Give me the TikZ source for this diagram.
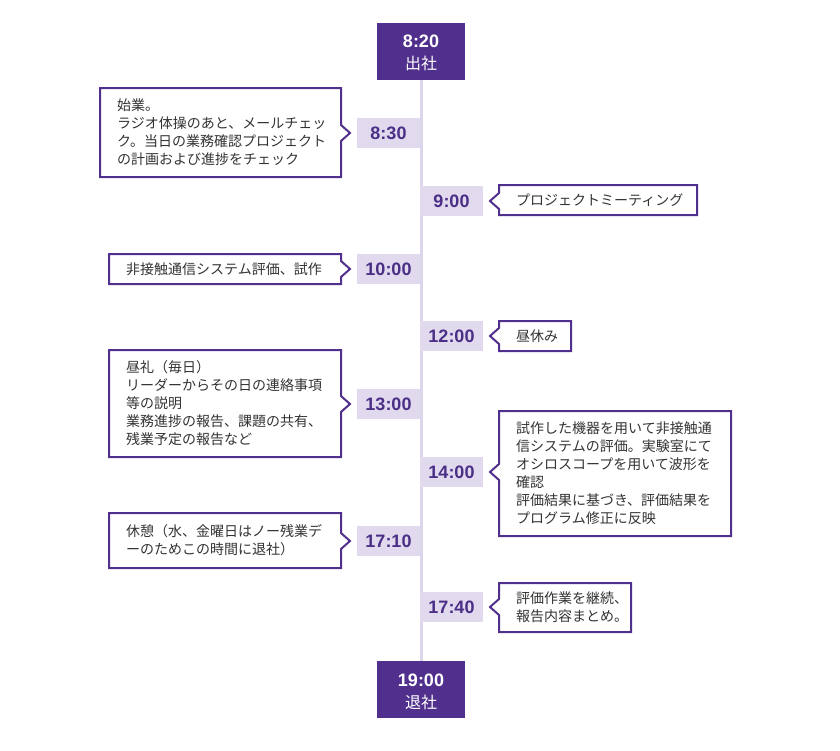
\documentclass[tikz,border=0pt]{standalone}
\usepackage{fontspec}
\setmainfont{Liberation Sans}
\newfontfamily\jpfont{Noto Sans CJK JP}
\definecolor{deep}{HTML}{50308C}
\definecolor{timetext}{HTML}{4B2E86}
\definecolor{pale}{HTML}{E1DAEE}
\definecolor{axiscol}{HTML}{DDD6EA}
\definecolor{ink}{HTML}{333333}
\tikzset{
  endbox/.style={fill=deep, minimum width=88pt, minimum height=57pt, inner sep=0pt},
  endtime/.style={text=white, font=\fontsize{18}{20}\selectfont\bfseries, inner sep=0pt, anchor=base},
  endsub/.style={text=white, font=\jpfont\fontsize{16}{18}\selectfont, inner sep=0pt},
  timebox/.style={fill=pale, text=timetext, font=\fontsize{18}{20}\selectfont\bfseries, minimum width=63pt, minimum height=30pt, inner sep=0pt},
  note/.style={text=ink, font=\jpfont\fontsize{14}{18}\selectfont, align=left, inner sep=0pt, anchor=west},
  frame/.style={draw=deep, line width=2pt, line join=miter},
  axisline/.style={draw=axiscol, line width=3pt},
}
% left note: x1 y1 x2 y2 ypointer name text
\newcommand\noteleft[7]{%
  \draw[frame] (#1,#2) -- (#3,#2) -- (#3,#5-8) -- (#3+9,#5) -- (#3,#5+8) -- (#3,#4) -- (#1,#4) -- cycle;
  \node[note] (#6) at (#1+17,{(#2+#4)/2}) {#7};}
% right note: x1 y1 x2 y2 ypointer name text
\newcommand\noteright[7]{%
  \draw[frame] (#1,#2) -- (#3,#2) -- (#3,#4) -- (#1,#4) -- (#1,#5+8) -- (#1-9,#5) -- (#1,#5-8) -- cycle;
  \node[note] (#6) at (#1+17,{(#2+#4)/2}) {#7};}
\begin{document}
\begin{tikzpicture}[x=1pt,y=-1pt]
\useasboundingbox (0,0) rectangle (840,750);
% start / end boxes
\node[endbox] (startbox) at (421,51.5) {};
\node[endbox] (endbox) at (421,689.5) {};
\draw[axisline] (startbox.south) -- (endbox.north);
\node[endtime] (starttime) at (421,47) {8:20};
\node[endsub] (startsub) at (421,63.5) {出社};
\node[endtime] (endtime) at (421,686) {19:00};
\node[endsub] (endsub) at (421,702) {退社};
% time labels
\node[timebox] (t0830) at (388.5,133) {8:30};
\node[timebox] (t0900) at (451.5,201) {9:00};
\node[timebox] (t1000) at (388.5,269) {10:00};
\node[timebox] (t1200) at (451.5,336) {12:00};
\node[timebox] (t1300) at (388.5,404) {13:00};
\node[timebox] (t1400) at (451.5,472) {14:00};
\node[timebox] (t1710) at (388.5,541) {17:10};
\node[timebox] (t1740) at (451.5,607) {17:40};
% notes
\noteleft{100}{88}{341}{177}{133}{n0830}{始業。\\ラジオ体操のあと、メールチェッ\\ク。当日の業務確認プロジェクト\\の計画および進捗をチェック}
\noteright{499}{185}{697}{215}{201}{n0900}{プロジェクトミーティング}
\noteleft{109}{254}{341}{284}{269}{n1000}{非接触通信システム評価、試作}
\noteright{499}{321}{571}{351}{336}{n1200}{昼休み}
\noteleft{109}{350}{341}{457}{404}{n1300}{昼礼（毎日）\\リーダーからその日の連絡事項\\等の説明\\業務進捗の報告、課題の共有、\\残業予定の報告など}
\noteright{499}{411}{731}{536}{472}{n1400}{試作した機器を用いて非接触通\\信システムの評価。実験室にて\\オシロスコープを用いて波形を\\確認\\評価結果に基づき、評価結果を\\プログラム修正に反映}
\noteleft{109}{513}{341}{568}{541}{n1710}{休憩（水、金曜日はノー残業デ\\ーのためこの時間に退社）}
\noteright{499}{583}{631}{632}{607}{n1740}{評価作業を継続、\\報告内容まとめ。}
\end{tikzpicture}
\end{document}
